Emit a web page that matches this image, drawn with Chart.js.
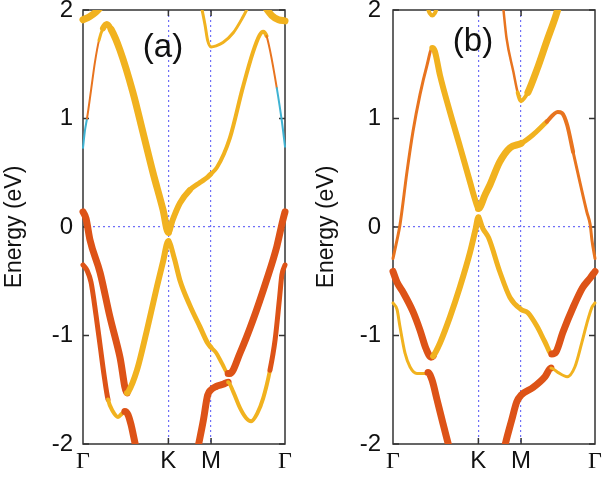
<!DOCTYPE html>
<html>
<head>
<meta charset="utf-8">
<script src="https://cdn.jsdelivr.net/npm/chart.js@4"></script>
<style>
  body { margin: 0; background: #fff; }
  #wrap { position: relative; width: 607px; height: 480px; }
  canvas { position: absolute; top: 0; }
  #chartA { left: 0; }
  #chartB { left: 300px; }
</style>
</head>
<body>
<div id="wrap">
  <canvas id="chartA" width="300" height="480"></canvas>
  <canvas id="chartB" width="307" height="480"></canvas>
</div>
<script>
// k path: Γ=0, K=1, M=1.5, Γ=2.366 (|ΓK| units)
const kTicks = [0, 1, 1.5, 2.366];
const kLabels = ["Γ", "K", "M", "Γ"];
const eTicks = [-2, -1, 0, 1, 2];
const yTitle = "Energy (eV)";

// panel (a) bands [k, E]
const a1Left = [[0, 1.91], [0.08, 1.94], [0.15, 1.98], [0.21, 2.03]];
const a1Right = [[2.13, 2.03], [2.21, 1.95], [2.29, 1.91], [2.366, 1.90]];
const a2 = [[0, 0.73], [0.023, 0.89], [0.047, 1.0], [0.094, 1.26], [0.14, 1.52], [0.187, 1.72], [0.234, 1.83], [0.28, 1.87],
  [0.33, 1.82], [0.433, 1.63], [0.585, 1.24], [0.703, 0.87], [0.82, 0.50], [0.937, 0.16], [1.0, -0.05], [1.05, 0.065],
  [1.135, 0.22], [1.25, 0.34], [1.37, 0.41], [1.46, 0.46], [1.5, 0.49], [1.57, 0.55], [1.72, 0.82], [1.87, 1.28],
  [1.99, 1.61], [2.07, 1.77], [2.11, 1.80], [2.15, 1.76], [2.19, 1.63], [2.27, 1.28], [2.33, 0.97], [2.366, 0.74]];
const a3 = [[1.39, 2.02], [1.43, 1.86], [1.46, 1.72], [1.5, 1.66], [1.56, 1.67], [1.64, 1.70], [1.76, 1.79], [1.87, 1.93], [1.93, 2.02]];
const aV1 = [[0, 0.14], [0.035, 0.08], [0.082, -0.12], [0.2, -0.42], [0.316, -0.83], [0.433, -1.20], [0.515, -1.53], [0.53, -1.52],
  [0.632, -1.32], [0.749, -0.95], [0.866, -0.55], [0.937, -0.32], [1.0, -0.13], [1.07, -0.29], [1.135, -0.49], [1.25, -0.72],
  [1.37, -0.92], [1.46, -1.07], [1.5, -1.11], [1.56, -1.16], [1.63, -1.26], [1.70, -1.35], [1.72, -1.35], [1.84, -1.16],
  [1.99, -0.86], [2.15, -0.49], [2.27, -0.18], [2.34, 0.06], [2.366, 0.14]];
const aV2Left = [[0, -0.35], [0.047, -0.40], [0.094, -0.51], [0.152, -0.81], [0.2, -1.09], [0.246, -1.36], [0.293, -1.59],
  [0.351, -1.70], [0.41, -1.75], [0.457, -1.72], [0.49, -1.70], [0.527, -1.73], [0.562, -1.82], [0.609, -1.99], [0.63, -2.06]];
const aV2Right = [[1.34, -2.06], [1.35, -2.02], [1.41, -1.78], [1.46, -1.55], [1.5, -1.50], [1.56, -1.47], [1.64, -1.45],
  [1.70, -1.43], [1.76, -1.52], [1.84, -1.67], [1.91, -1.76], [1.97, -1.79], [2.04, -1.72], [2.11, -1.58], [2.19, -1.32],
  [2.25, -1.04], [2.30, -0.67], [2.33, -0.44], [2.366, -0.35]];

// panel (b) bands [k, E]
const bTop = [[0.40, 2.03], [0.43, 1.97], [0.46, 1.95], [0.49, 1.97], [0.52, 2.03]];
const bC1 = [[0, -0.29], [0.047, -0.12], [0.082, 0.02], [0.164, 0.51], [0.234, 0.88], [0.316, 1.22], [0.398, 1.49], [0.46, 1.65],
  [0.49, 1.62], [0.55, 1.40], [0.667, 1.06], [0.785, 0.74], [0.90, 0.42], [0.97, 0.23], [1.0, 0.17], [1.08, 0.30], [1.136, 0.39],
  [1.25, 0.60], [1.37, 0.73], [1.5, 0.77], [1.64, 0.85], [1.80, 0.97], [1.93, 1.06], [1.98, 1.05], [2.04, 0.94], [2.11, 0.69],
  [2.19, 0.41], [2.27, 0.14], [2.31, 0.02], [2.33, -0.12], [2.366, -0.29]];
const bC2 = [[1.29, 2.03], [1.33, 1.74], [1.41, 1.43], [1.46, 1.24], [1.5, 1.16], [1.54, 1.19], [1.58, 1.24], [1.69, 1.46],
  [1.80, 1.71], [1.90, 1.93], [1.94, 2.03]];
const bV1 = [[0, -0.41], [0.047, -0.51], [0.117, -0.60], [0.234, -0.78], [0.316, -0.95], [0.386, -1.12], [0.445, -1.20],
  [0.47, -1.19], [0.55, -1.07], [0.667, -0.83], [0.785, -0.55], [0.90, -0.24], [0.97, -0.01], [1.0, 0.09], [1.05, -0.01],
  [1.12, -0.10], [1.25, -0.41], [1.37, -0.65], [1.5, -0.76], [1.58, -0.79], [1.69, -0.92], [1.78, -1.06], [1.86, -1.17],
  [1.91, -1.15], [1.99, -0.97], [2.11, -0.74], [2.22, -0.56], [2.31, -0.47], [2.366, -0.41]];
const bQLeft = [[0, -0.70], [0.047, -0.76], [0.082, -0.92], [0.14, -1.16], [0.2, -1.29], [0.28, -1.35], [0.375, -1.35],
  [0.41, -1.34], [0.457, -1.41], [0.515, -1.59], [0.585, -1.81], [0.644, -1.99], [0.67, -2.06]];
const bQRight = [[1.30, -2.06], [1.31, -2.02], [1.39, -1.78], [1.45, -1.61], [1.5, -1.55], [1.64, -1.48], [1.78, -1.38],
  [1.85, -1.30], [1.93, -1.34], [2.04, -1.38], [2.13, -1.29], [2.21, -1.07], [2.27, -0.89], [2.33, -0.74], [2.366, -0.70]];

const YEL = "#f1b21f", ORG = "#dd5317", ORM = "#e8741f", CYA = "#3fb3d3";
const DOT = "#6f6ff7";
const SANS = "'Liberation Sans', Arial, sans-serif";

// colour / width along each band: [from k, colour, width]
const bandsA = [
  { pts: a1Left, stops: [[0, YEL, 7]] },
  { pts: a1Right, stops: [[0, YEL, 7]] },
  { pts: a2, stops: [[0, CYA, 2], [0.05, ORM, 2], [0.17, YEL, 3], [0.24, YEL, 6], [0.35, YEL, 7], [1.0, YEL, 6], [1.3, YEL, 5], [1.5, YEL, 4], [2.14, ORM, 2], [2.3, CYA, 2]] },
  { pts: a3, stops: [[0, YEL, 3]] },
  { pts: aV1, stops: [[0, ORG, 7], [0.52, YEL, 6], [1.0, YEL, 5], [1.5, YEL, 4], [1.71, ORG, 7]] },
  { pts: aV2Left, stops: [[0, ORG, 5], [0.3, YEL, 4], [0.5, ORG, 7]] },
  { pts: aV2Right, stops: [[0, ORG, 7], [1.7, YEL, 4], [2.17, ORG, 5]] }
];
const bandsB = [
  { pts: bTop, stops: [[0, YEL, 4]] },
  { pts: bC1, stops: [[0, ORM, 3], [0.44, YEL, 6], [1.0, YEL, 7], [1.5, YEL, 5], [1.8, ORM, 4], [2.1, ORM, 3]] },
  { pts: bC2, stops: [[0, ORM, 2.5], [1.47, YEL, 4], [1.6, YEL, 7]] },
  { pts: bV1, stops: [[0, ORG, 7], [0.46, YEL, 6], [1.0, YEL, 5], [1.87, ORG, 7]] },
  { pts: bQLeft, stops: [[0, YEL, 3], [0.42, ORG, 7]] },
  { pts: bQRight, stops: [[0, ORG, 7], [1.86, YEL, 3]] }
];

function pick(stops, k) {
  let s = stops[0];
  for (const st of stops) if (st[0] <= k) s = st;
  return s;
}

const frame = {
  id: "frame",
  beforeDatasetsDraw(chart) {
    const { ctx, chartArea: a, scales: { x, y } } = chart;
    ctx.save();
    ctx.strokeStyle = "#333";
    ctx.lineWidth = 1.5;
    ctx.strokeRect(a.left, a.top, a.width, a.height);
    ctx.beginPath();
    eTicks.forEach(v => {
      const py = y.getPixelForValue(v);
      ctx.moveTo(a.left, py); ctx.lineTo(a.left + 6, py);
      ctx.moveTo(a.right, py); ctx.lineTo(a.right - 6, py);
    });
    kTicks.slice(1, 3).forEach(v => {
      const px = x.getPixelForValue(v);
      ctx.moveTo(px, a.bottom); ctx.lineTo(px, a.bottom - 6);
      ctx.moveTo(px, a.top); ctx.lineTo(px, a.top + 6);
    });
    ctx.stroke();
    ctx.restore();
  },
  afterDatasetsDraw(chart, args, opts) {
    const { ctx } = chart;
    ctx.save();
    ctx.font = "33px " + SANS;
    ctx.fillStyle = "#111";
    ctx.textAlign = "center";
    ctx.textBaseline = "middle";
    ctx.fillText(opts.text, opts.x, opts.y);
    ctx.restore();
  }
};

function makePanel(id, bands, label, lx, ly, padLeft, padRight, yWidth, tickPad) {
  const canvas = document.getElementById(id);
  return new Chart(canvas, {
    type: "line",
    data: {
      datasets: bands.map(b => ({
        data: b.pts.map(([x, y]) => ({ x, y })),
        borderColor: b.stops[0][1],
        borderWidth: b.stops[0][2],
        pointRadius: 0,
        cubicInterpolationMode: "monotone",
        borderCapStyle: "round",
        borderJoinStyle: "round",
        clip: { left: 5, right: 5, top: 0, bottom: 0 },
        segment: {
          borderColor: c => pick(b.stops, (c.p0.parsed.x + c.p1.parsed.x) / 2)[1],
          borderWidth: c => pick(b.stops, (c.p0.parsed.x + c.p1.parsed.x) / 2)[2]
        }
      }))
    },
    options: {
      responsive: false,
      animation: false,
      layout: { padding: { left: padLeft, right: padRight, top: 10, bottom: 0 } },
      plugins: { legend: { display: false }, tooltip: { enabled: false }, frame: { text: label, x: lx, y: ly } },
      scales: {
        x: {
          type: "linear", min: 0, max: kTicks[kTicks.length - 1],
          afterBuildTicks: s => { s.ticks = kTicks.map(v => ({ value: v })); },
          afterFit: s => { s.height = 36; s.paddingLeft = 0; s.paddingRight = 0; },
          grid: { drawTicks: false, lineWidth: 1.2, color: c => (c.tick && (c.tick.value === 1 || c.tick.value === 1.5)) ? DOT : "transparent" },
          border: { display: false, dash: [2, 3] },
          ticks: {
            autoSkip: false, maxRotation: 0, padding: 3, color: "#111",
            font: c => ({ size: 24, family: c.tick && c.tick.label === "Γ" ? "'Liberation Serif', 'DejaVu Serif', serif" : SANS }),
            callback: (v, i) => kLabels[i]
          }
        },
        y: {
          min: -2, max: 2,
          afterBuildTicks: s => { s.ticks = eTicks.map(v => ({ value: v })); },
          afterFit: s => { s.width = yWidth; s.paddingTop = 0; s.paddingBottom = 0; },
          grid: { drawTicks: false, lineWidth: 1.2, color: c => (c.tick && c.tick.value === 0) ? DOT : "transparent" },
          border: { display: false, dash: [2, 3] },
          ticks: { padding: tickPad, color: "#111", font: { size: 24, family: SANS } },
          title: { display: true, text: yTitle, color: "#111", font: { size: 23, family: SANS }, padding: { top: 1, bottom: 0 } }
        }
      }
    },
    plugins: [frame]
  });
}

makePanel("chartA", bandsA, "(a)", 163, 48, 0, 15, 83, 10);
makePanel("chartB", bandsB, "(b)", 173, 42, 12, 12, 81, 12);
</script>
</body>
</html>
